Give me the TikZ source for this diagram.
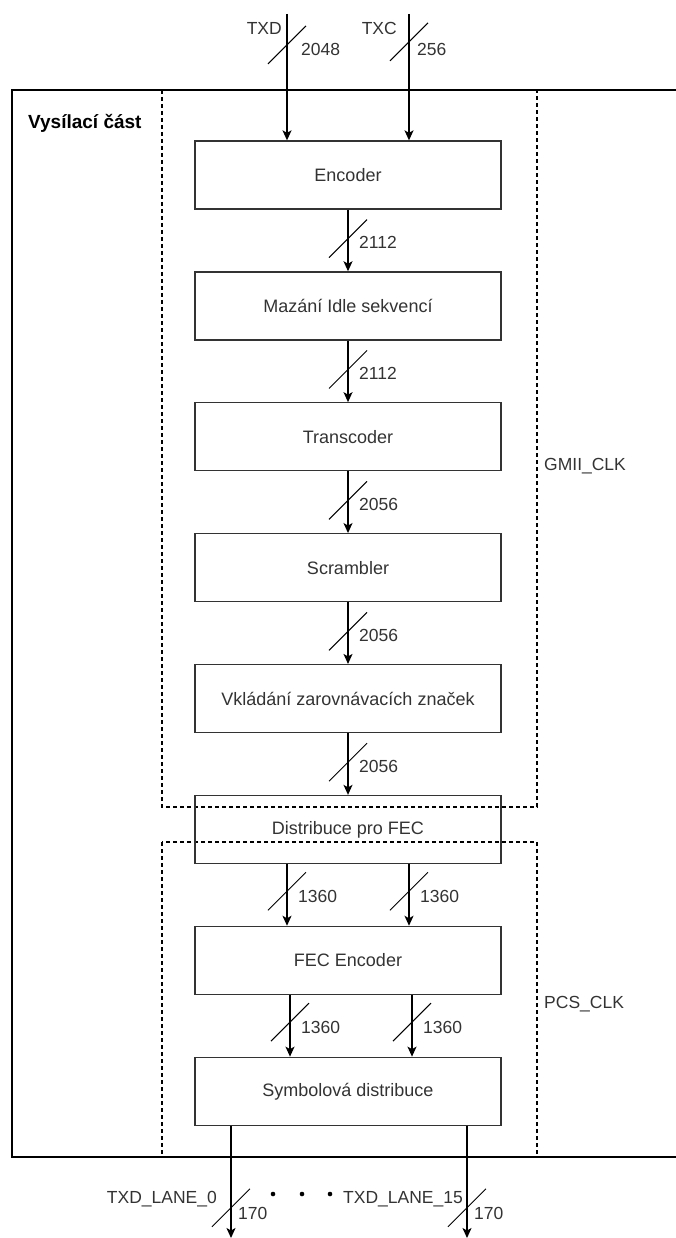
\documentclass[tikz,border=0pt]{standalone}
\usepackage{fontspec}
\setmainfont{Liberation Sans}
\usetikzlibrary{positioning}
\usetikzlibrary{arrows.meta}
\definecolor{txt}{HTML}{333333}
\tikzset{>={Stealth[length=10pt,width=9pt,inset=2.5pt]}}
\tikzset{blok/.style={draw=txt, line width=1.3pt, minimum width=306pt, minimum height=68pt, inner sep=0pt, text=txt, font=\fontsize{18}{21}\selectfont}}
\tikzset{sig/.style={->, line width=1.4pt}}
\tikzset{sirka/.style={line width=1pt}}
\tikzset{num/.style={anchor=west, inner sep=0pt, text=txt, font=\fontsize{17.5}{20}\selectfont}}
\tikzset{hran/.style={line width=1.5pt, dash pattern=on 4pt off 3pt}}

\begin{document}
\begin{tikzpicture}[x=1pt, y=-1pt]
\useasboundingbox (0,0) rectangle (675,1238);

% outer frame and clock domains
\draw[line width=2.8pt] (12,90) rectangle (690,1157);
\draw[hran] (162,90) rectangle (537,807);
\draw[hran] (162,842) rectangle (537,1157);

\node[num, font=\bfseries\fontsize{19}{22}\selectfont, text=black] (title) at (28,123) {Vysílací část};
\node[num] (gmii) at (544,466) {GMII\_CLK};
\node[num] (pcs) at (544,1004) {PCS\_CLK};

% blocks
\node[blok] (enc) at (348,175) {Encoder};
\node[blok] (idle) [below=61.6pt of enc] {Mazání Idle sekvencí};
\node[blok] (trans) [below=61.6pt of idle] {Transcoder};
\node[blok] (scr) [below=61.6pt of trans] {Scrambler};
\node[blok] (align) [below=61.6pt of scr] {Vkládání zarovnávacích značek};
\node[blok] (dist) [below=61.6pt of align] {Distribuce pro FEC};
\node[blok] (fec) [below=61.6pt of dist] {FEC Encoder};
\node[blok] (sym) [below=61.6pt of fec] {Symbolová distribuce};

% inputs
\coordinate (txd) at (287,14);
\coordinate (txc) at (409,14);
\draw[sig] (txd) -- coordinate[pos=0.245] (txdb) (txd |- enc.north);
\draw[sig] (txc) -- coordinate[pos=0.22] (txcb) (txc |- enc.north);
\draw[sirka] (txdb) ++(-19,19) -- ++(38,-38);
\draw[sirka] (txcb) ++(-19,19) -- ++(38,-38);
\node[num, anchor=east] (txdl) at ([xshift=-5pt,yshift=16pt]txdb) {TXD};
\node[num, anchor=east] (txcl) at ([xshift=-12pt,yshift=13pt]txcb) {TXC};
\node[num] (txdn) at ([xshift=14pt,yshift=-5pt]txdb) {2048};
\node[num] (txcn) at ([xshift=8pt,yshift=-8pt]txcb) {256};

% main chain
\draw[sig] (enc) -- coordinate[pos=0.47] (b1) (idle);
\draw[sig] (idle) -- coordinate[pos=0.47] (b2) (trans);
\draw[sig] (trans) -- coordinate[pos=0.47] (b3) (scr);
\draw[sig] (scr) -- coordinate[pos=0.47] (b4) (align);
\draw[sig] (align) -- coordinate[pos=0.47] (b5) (dist);
\draw[sirka] (b1) ++(-19,19) -- ++(38,-38);
\draw[sirka] (b2) ++(-19,19) -- ++(38,-38);
\draw[sirka] (b3) ++(-19,19) -- ++(38,-38);
\draw[sirka] (b4) ++(-19,19) -- ++(38,-38);
\draw[sirka] (b5) ++(-19,19) -- ++(38,-38);
\node[num] (n1) at ([xshift=11pt,yshift=-4pt]b1) {2112};
\node[num] (n2) at ([xshift=11pt,yshift=-4pt]b2) {2112};
\node[num] (n3) at ([xshift=11pt,yshift=-4pt]b3) {2056};
\node[num] (n4) at ([xshift=11pt,yshift=-4pt]b4) {2056};
\node[num] (n5) at ([xshift=11pt,yshift=-4pt]b5) {2056};

% FEC lanes
\draw[sig] ([xshift=-61pt]dist.south) -- coordinate[pos=0.44] (f1) ([xshift=-61pt]fec.north);
\draw[sig] ([xshift=61pt]dist.south) -- coordinate[pos=0.44] (f2) ([xshift=61pt]fec.north);
\draw[sig] ([xshift=-58pt]fec.south) -- coordinate[pos=0.44] (f3) ([xshift=-58pt]sym.north);
\draw[sig] ([xshift=64pt]fec.south) -- coordinate[pos=0.44] (f4) ([xshift=64pt]sym.north);
\draw[sirka] (f1) ++(-19,19) -- ++(38,-38);
\draw[sirka] (f2) ++(-19,19) -- ++(38,-38);
\draw[sirka] (f3) ++(-19,19) -- ++(38,-38);
\draw[sirka] (f4) ++(-19,19) -- ++(38,-38);
\node[num] (m1) at ([xshift=11pt,yshift=-5pt]f1) {1360};
\node[num] (m2) at ([xshift=11pt,yshift=-5pt]f2) {1360};
\node[num] (m3) at ([xshift=11pt,yshift=-5pt]f3) {1360};
\node[num] (m4) at ([xshift=11pt,yshift=-5pt]f4) {1360};

% outputs
\coordinate (lane0) at (231,1238);
\coordinate (lane15) at (467,1238);
\draw[sig] (sym.south -| lane0) -- coordinate[pos=0.73] (l0b) (lane0);
\draw[sig] (sym.south -| lane15) -- coordinate[pos=0.73] (l15b) (lane15);
\draw[sirka] (l0b) ++(-19,19) -- ++(38,-38);
\draw[sirka] (l15b) ++(-19,19) -- ++(38,-38);
\node[num] (l0n) at ([xshift=7pt,yshift=-6pt]l0b) {170};
\node[num] (l15n) at ([xshift=7pt,yshift=-6pt]l15b) {170};
\node[num, anchor=east] (l0l) at ([xshift=-14pt,yshift=9pt]l0b) {TXD\_LANE\_0};
\node[num, anchor=east] (l15l) at ([xshift=-4pt,yshift=9pt]l15b) {TXD\_LANE\_15};
\fill (273,1194) circle (2.3pt);
\fill (302,1194) circle (2.3pt);
\fill (330,1194) circle (2.3pt);
\end{tikzpicture}
\end{document}
